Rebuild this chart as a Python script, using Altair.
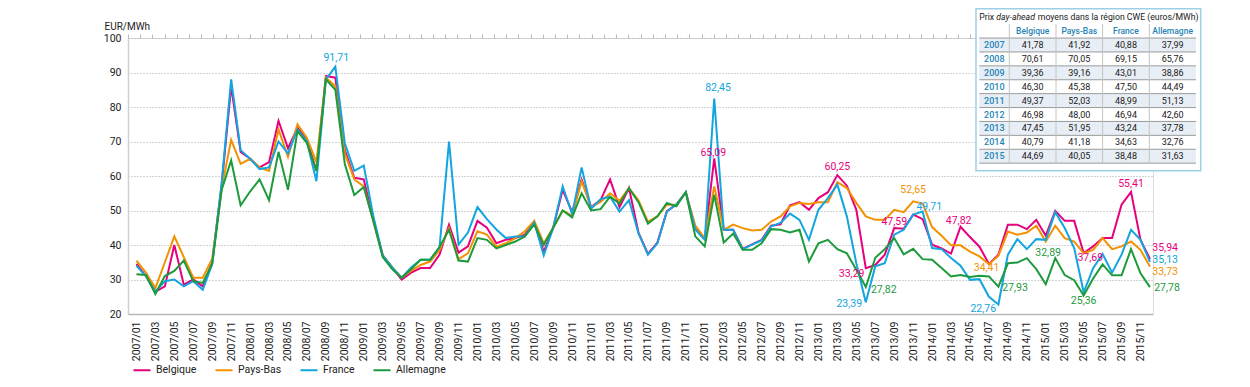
import altair as alt
import pandas as pd

FONT = "Roboto, Liberation Sans, sans-serif"

MONTHS = [f"{y}/{m:02d}" for y in range(2007, 2016) for m in range(1, 13)]
SERIES = ["Belgique", "Pays-Bas", "France", "Allemagne"]
COLORS = ["#E6007E", "#F39200", "#12A5E0", "#1D9A3C"]

BELGIQUE = [
    34.5, 31.0, 26.5, 28.0, 40.0, 28.5, 30.0, 28.0, 35.0, 57.5, 86.0, 67.0,
    65.0, 62.5, 64.0, 76.0, 68.0, 74.0, 70.5, 61.5, 89.0, 88.5, 67.5, 59.5,
    59.0, 47.5, 37.0, 33.5, 30.0, 32.0, 33.3, 33.3, 37.2, 45.9, 37.8, 39.6,
    47.0, 45.0, 40.5, 41.5, 42.0, 43.0, 46.5, 38.0, 45.0, 56.0, 49.5, 59.0,
    51.0, 53.0, 59.0, 51.0, 56.5, 43.6, 37.4, 40.7, 49.8, 51.7, 55.3, 44.9,
    41.8, 65.09, 44.4, 44.4, 38.9, 40.2, 41.5, 45.6, 46.0, 51.5, 52.4, 50.2,
    53.6, 55.3, 60.25, 57.2, 50.2, 33.29, 34.2, 37.2, 44.9, 44.7, 48.8, 47.5,
    40.1, 39.0, 37.5, 45.3, 42.3, 39.5, 34.5, 37.2, 45.9, 45.9, 44.6, 47.3,
    42.7, 49.9, 47.0, 47.0, 37.69, 39.6, 42.0, 42.0, 51.7, 55.41, 41.5, 35.94,
]
PAYS_BAS = [
    35.5, 32.0, 27.5, 35.0, 42.5, 36.5, 30.5, 30.5, 36.0, 56.5, 70.5, 63.5,
    65.0, 62.5, 61.5, 73.5, 65.5, 75.0, 71.0, 64.0, 88.5, 86.0, 66.5, 59.0,
    57.0, 47.0, 37.0, 33.5, 30.5, 32.5, 34.2, 35.2, 38.5, 44.9, 35.9, 37.6,
    44.0, 43.0, 39.5, 40.5, 42.0, 44.0, 47.0, 40.5, 45.0, 50.0, 48.5, 58.5,
    51.0, 52.5, 55.0, 52.8, 56.5, 53.0, 46.8, 48.3, 51.7, 51.7, 55.3, 45.6,
    42.0, 57.0, 44.4, 45.9, 44.9, 44.2, 44.4, 46.8, 48.3, 51.2, 52.2, 51.9,
    52.4, 52.4, 58.2, 56.5, 52.2, 48.3, 47.3, 47.3, 50.2, 49.5, 52.65, 52.0,
    45.2, 42.7, 39.9, 39.9, 38.1, 36.7, 34.41, 36.9, 43.9, 43.0, 43.6, 45.6,
    41.0, 45.6, 42.0, 41.0, 37.6, 38.6, 42.0, 38.8, 39.6, 41.0, 38.6, 33.73,
]
FRANCE = [
    34.0, 31.0, 26.5, 29.5, 30.0, 28.0, 29.5, 27.0, 34.5, 58.0, 88.0, 67.5,
    65.0, 62.0, 62.5, 70.0, 66.5, 73.5, 70.0, 58.5, 88.0, 91.71, 69.5, 61.5,
    63.0, 48.5, 37.0, 33.5, 30.5, 33.5, 35.7, 35.7, 39.4, 70.0, 40.1, 43.6,
    51.0, 47.5, 44.5, 42.0, 42.5, 42.5, 46.5, 37.0, 45.0, 57.0, 49.0, 62.5,
    50.5, 53.3, 54.0, 49.7, 53.0, 43.4, 37.2, 40.5, 49.7, 51.7, 55.3, 44.5,
    41.5, 82.45, 44.4, 44.4, 38.8, 40.1, 41.3, 45.4, 46.4, 49.1, 47.3, 41.5,
    50.2, 53.6, 57.5, 48.3, 34.7, 23.39, 33.8, 34.7, 43.0, 44.4, 48.8, 49.71,
    39.1, 38.8, 36.2, 34.0, 29.9, 30.1, 25.0, 22.76, 37.2, 41.7, 38.8, 41.7,
    41.5, 49.5, 44.9, 39.1, 26.3, 33.3, 37.4, 32.0, 37.2, 44.4, 41.5, 35.13,
]
ALLEMAGNE = [
    31.5, 31.3, 25.8, 31.0, 32.5, 35.5, 29.5, 29.0, 34.5, 56.0, 64.5, 51.5,
    55.5, 59.0, 53.0, 67.0, 56.0, 73.0, 69.5, 61.5, 88.0, 85.0, 63.5, 54.5,
    56.8, 47.0, 36.5, 33.0, 30.5, 33.0, 35.7, 35.7, 39.4, 44.4, 35.5, 35.2,
    42.0, 41.5, 39.0, 40.0, 41.0, 42.5, 46.0, 40.0, 45.0, 50.0, 48.0, 55.0,
    50.0, 50.4, 54.0, 52.0, 56.5, 52.4, 46.2, 48.3, 52.2, 51.2, 55.3, 42.5,
    39.6, 54.6, 40.7, 43.3, 38.6, 38.6, 40.5, 44.6, 44.4, 43.6, 44.4, 35.2,
    40.5, 41.5, 38.8, 37.6, 32.8, 27.82, 36.3, 38.8, 42.0, 37.3, 38.9, 35.9,
    35.7, 33.3, 30.9, 31.3, 30.7, 31.1, 30.9, 27.93, 34.7, 34.9, 36.2, 33.0,
    28.6, 36.2, 31.3, 29.8, 25.36, 30.3, 34.4, 31.2, 31.2, 38.8, 31.8, 27.78,
]

# annotations: series, label anchor (month index, price level), value shown
ANN_SERIES = ["France", "France", "Belgique", "Belgique", "Belgique", "France", "Allemagne",
              "Belgique", "Pays-Bas", "France", "Belgique", "Pays-Bas", "France", "Allemagne",
              "Allemagne", "Allemagne", "Belgique", "Belgique",
              "Belgique", "France", "Pays-Bas", "Allemagne"]
ANN_X = [21.1, 61.4, 60.9, 74.0, 75.5, 75.25, 78.9,
         80.0, 82.0, 83.7, 86.8, 89.75, 89.4, 92.75,
         96.25, 100.0, 100.7, 105.0,
         108.6, 108.6, 108.6, 108.8]
ANN_Y = [94.3, 85.6, 66.7, 62.5, 31.6, 22.9, 27.0,
         46.6, 56.0, 51.0, 47.0, 33.2, 21.45, 27.6,
         37.8, 23.8, 36.2, 57.7,
         39.1, 35.6, 32.2, 27.6]
ANN_VALUE = [91.71, 82.45, 65.09, 60.25, 33.29, 23.39, 27.82,
             47.59, 52.65, 49.71, 47.82, 34.41, 22.76, 27.93,
             32.89, 25.36, 37.69, 55.41,
             35.94, 35.13, 33.73, 27.78]

# table
TABLE_TITLE = ["Prix", "day-ahead", "moyens dans la région CWE (euros/MWh)"]
TABLE_YEARS = ["2007", "2008", "2009", "2010", "2011", "2012", "2013", "2014", "2015"]
TABLE_BE = [41.78, 70.61, 39.36, 46.30, 49.37, 46.98, 47.45, 40.79, 44.69]
TABLE_NL = [41.92, 70.05, 39.16, 45.38, 52.03, 48.00, 51.95, 41.18, 40.05]
TABLE_FR = [40.88, 69.15, 43.01, 47.50, 48.99, 46.94, 43.24, 34.63, 38.48]
TABLE_DE = [37.99, 65.76, 38.86, 44.49, 51.13, 42.60, 37.78, 32.76, 31.63]

# ---------------------------------------------------------------- layout
X_MIN, X_MAX = -0.89, 107.32
TICK_VALUES = [X_MIN + k * (X_MAX - X_MIN) / 84 for k in range(85)]
W, H = 1025, 276
INK = "#222222"

rows = []
for s, vals in zip(SERIES, [BELGIQUE, PAYS_BAS, FRANCE, ALLEMAGNE]):
    for i, v in enumerate(vals):
        rows.append({"i": i, "month": MONTHS[i], "series": s, "value": v})
df = pd.DataFrame(rows)

xscale = alt.Scale(domain=[X_MIN, X_MAX], nice=False, zero=False)
yscale = alt.Scale(domain=[20, 100], nice=False, zero=False)
cscale = alt.Scale(domain=SERIES, range=COLORS)

label_expr = "[" + ",".join(f"'{m}'" for m in MONTHS) + "][datum.value]"

label_axis = alt.Axis(values=list(range(0, 108, 2)), labelExpr=label_expr, labelAngle=-90,
                      ticks=False, domain=True, domainColor="#b8b8b8", domainWidth=1.5, grid=False,
                      labelPadding=7, labelFont=FONT, labelFontSize=10.5, labelColor=INK,
                      labelOverlap=False, title=None)
tick_axis = alt.Axis(values=TICK_VALUES, labels=False, ticks=True, tickSize=4, tickColor="#b8b8b8",
                     domain=False, grid=False, title=None)
y_axis = alt.Axis(values=list(range(20, 101, 10)), grid=True, gridDash=[1, 2], gridColor="#a8a8a8",
                  gridWidth=1, domain=True, domainColor="#d0d0d0", domainWidth=1.5, ticks=False,
                  labelPadding=7, labelFont=FONT, labelFontSize=10.5, labelColor=INK,
                  title="EUR/MWh", titleAngle=0, titleX=-24, titleY=-9, titleAlign="left",
                  titleBaseline="alphabetic", titleFont=FONT, titleFontSize=10,
                  titleFontWeight="normal", titleColor=INK)

legend = alt.Legend(title=None, orient="none", legendX=4, legendY=322, direction="horizontal",
                    symbolType="stroke", symbolSize=290, symbolStrokeWidth=2,
                    labelFont=FONT, labelFontSize=10.5, labelColor=INK,
                    columnPadding=14, labelOffset=4)

lines = alt.Chart(df).mark_line(strokeWidth=2).encode(
    x=alt.X("i:Q", scale=xscale, axis=label_axis),
    y=alt.Y("value:Q", scale=yscale, axis=y_axis),
    color=alt.Color("series:N", scale=cscale, legend=legend),
)
ticks = alt.Chart(df).mark_rule(opacity=0).encode(
    x=alt.X("i:Q", scale=xscale, axis=tick_axis),
)

ann_df = pd.DataFrame({"series": ANN_SERIES, "x": ANN_X, "y": ANN_Y, "v": ANN_VALUE})
ann = alt.Chart(ann_df).mark_text(font=FONT, fontSize=10.5, baseline="middle", align="center").transform_calculate(
    label="replace(format(datum.v, '.2f'), '.', ',')"
).encode(
    x=alt.X("x:Q", scale=xscale, axis=None),
    y=alt.Y("y:Q", scale=yscale, axis=y_axis),
    color=alt.Color("series:N", scale=cscale, legend=legend),
    text="label:N",
)

main = alt.layer(lines, ticks, ann).resolve_axis(x="independent")

# ---------------------------------------------------------------- table
EDGES = [0, 30, 76.7, 123.3, 170, 216.7]       # column boundaries (table px)
ROW0, ROWH = 45.0, 13.9                          # page y of first year row, row pitch
TX = alt.Scale(domain=[0, 216.7], range=[979.3 - 128, 1196 - 128], nice=False, zero=False)
TY = alt.Scale(domain=[-3, 9], range=[ROW0 - 3 * ROWH - 38, ROW0 + 9 * ROWH - 38], nice=False, zero=False)

def tx(field):
    return alt.X(field, scale=TX, axis=None)

def ty(field):
    return alt.Y(field, scale=TY, axis=None)

box = alt.Chart(pd.DataFrame({"x": [-3.3], "x2": [221.4], "y": [-2.6], "y2": [9.05]})).mark_rect(
    fill="white", stroke="#9dd0e4", strokeWidth=1.5
).encode(x=tx("x:Q"), x2="x2:Q", y=ty("y:Q"), y2="y2:Q")

shade = alt.Chart(pd.DataFrame({"k": list(range(0, 9, 2))})).transform_calculate(
    y0="datum.k - 0.5", y1="datum.k + 0.5", x0="0", x1="216.7"
).mark_rect(fill="#e8eef5").encode(x=tx("x0:Q"), x2="x1:Q", y=ty("y0:Q"), y2="y1:Q")

hl = alt.Chart(pd.DataFrame({"k": list(range(-1, 9))})).transform_calculate(
    yy="datum.k + 0.5", x0="0", x1="216.7"
).mark_rule(color="#9a9a9a", strokeWidth=1).encode(x=tx("x0:Q"), x2="x1:Q", y=ty("yy:Q"))

vl = alt.Chart(pd.DataFrame({"e": EDGES[1:-1]})).transform_calculate(y0="-1.5", y1="8.5").mark_rule(
    color="#c4c4c4", strokeWidth=1
).encode(x=tx("e:Q"), y=ty("y0:Q"), y2="y1:Q")

title_df = pd.DataFrame({"t": TABLE_TITLE, "x": [0, 17.0, 58.5], "italic": [False, True, False]})
title_n = alt.Chart(title_df[~title_df["italic"]]).transform_calculate(y="-2.05").mark_text(
    font=FONT, fontSize=8.7, align="left", baseline="middle", color="#1a1a1a"
).encode(x=tx("x:Q"), y=ty("y:Q"), text="t:N")
title_i = alt.Chart(title_df[title_df["italic"]]).transform_calculate(y="-2.05").mark_text(
    font=FONT, fontSize=8.7, align="left", baseline="middle", fontStyle="italic", color="#1a1a1a"
).encode(x=tx("x:Q"), y=ty("y:Q"), text="t:N")

centers = [(EDGES[j] + EDGES[j + 1]) / 2 for j in range(5)]
hdr = alt.Chart(pd.DataFrame({"t": SERIES, "x": centers[1:]})).transform_calculate(y="-1.0").mark_text(
    font=FONT, fontSize=8.5, align="center", baseline="middle", color="#1f84b3", fontWeight=500
).encode(x=tx("x:Q"), y=ty("y:Q"), text="t:N")

yrs = alt.Chart(pd.DataFrame({"t": TABLE_YEARS, "k": list(range(9))})).transform_calculate(
    x=str(centers[0])
).mark_text(font=FONT, fontSize=9, align="center", baseline="middle", color="#1f84b3",
            fontWeight=500).encode(x=tx("x:Q"), y=ty("k:Q"), text="t:N")

cells = []
for j, vals in enumerate([TABLE_BE, TABLE_NL, TABLE_FR, TABLE_DE]):
    for k, v in enumerate(vals):
        cells.append({"x": centers[j + 1], "k": k, "v": v})
vals_layer = alt.Chart(pd.DataFrame(cells)).transform_calculate(
    label="replace(format(datum.v, '.2f'), '.', ',')"
).mark_text(font=FONT, fontSize=9, align="center", baseline="middle", color="#1a1a1a").encode(
    x=tx("x:Q"), y=ty("k:Q"), text="label:N")

table = alt.layer(box, shade, hl, vl, title_n, title_i, hdr, yrs, vals_layer)

chart = alt.layer(main, table).resolve_scale(x="independent", y="independent").properties(
    width=W, height=H,
    autosize=alt.AutoSizeParams(type="none"),
    padding={"left": 120, "top": 30, "right": 89, "bottom": 63},
).configure_view(stroke=None).configure(font=FONT)

chart.save("out.html", embed_options={"renderer": "svg", "actions": False})
